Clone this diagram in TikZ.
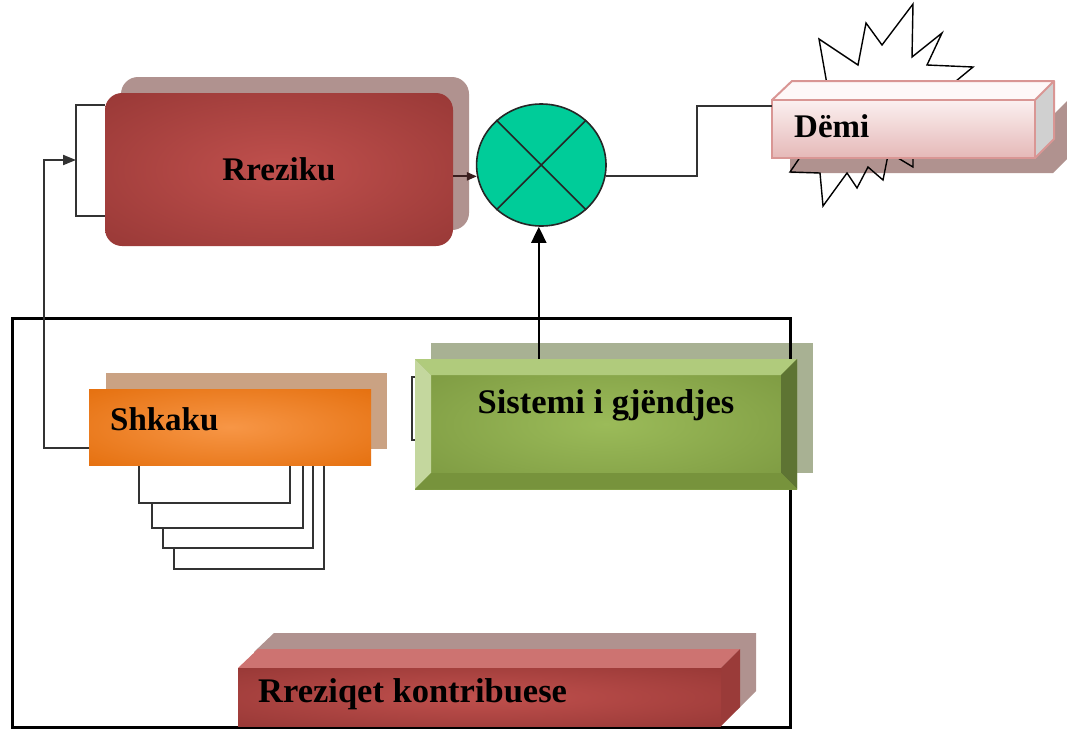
\documentclass[tikz,border=0pt]{standalone}
\usepackage{fontspec}
\setmainfont{Liberation Serif}
\usetikzlibrary{shapes.geometric,arrows.meta,calc}
\definecolor{rrIn}{HTML}{C0504D}
\definecolor{rrOut}{HTML}{943634}
\definecolor{shRed}{HTML}{B0928F}
\definecolor{mint}{HTML}{00CC99}
\definecolor{pinkB}{HTML}{D99694}
\definecolor{pinkTop}{HTML}{FBF0F0}
\definecolor{pinkBot}{HTML}{E5B8B7}
\definecolor{pinkLid}{HTML}{FEF8F8}
\definecolor{greyF}{HTML}{D0D0D0}
\definecolor{shGreen}{HTML}{A8B193}
\definecolor{gIn}{HTML}{9BBB59}
\definecolor{gOut}{HTML}{76923C}
\definecolor{gTop}{HTML}{B0CB7C}
\definecolor{gLeft}{HTML}{C4D79E}
\definecolor{gRight}{HTML}{5E7433}
\definecolor{gBot}{HTML}{77933C}
\definecolor{shOr}{HTML}{CAA283}
\definecolor{oIn}{HTML}{F79646}
\definecolor{oOut}{HTML}{E36C09}
\definecolor{rqTop}{HTML}{CD7371}
\definecolor{rqSide}{HTML}{9A3B39}
\definecolor{connC}{HTML}{333333}
\definecolor{connD}{HTML}{3A1F1F}
\pgfdeclareradialshading{redrad}{\pgfpoint{0bp}{0bp}}{color(0bp)=(rrIn); color(40bp)=(rrOut); color(100bp)=(rrOut)}
\pgfdeclareradialshading{orrad}{\pgfpoint{0bp}{0bp}}{color(0bp)=(oIn); color(40bp)=(oOut); color(100bp)=(oOut)}
\pgfdeclareradialshading{grrad}{\pgfpoint{0bp}{0bp}}{color(0bp)=(gIn); color(40bp)=(gOut); color(100bp)=(gOut)}
\begin{document}
\begin{tikzpicture}[x=1pt,y=-1pt,
  lbl/.style={font=\fontsize{33}{40}\selectfont\bfseries, inner sep=0pt},
  lblbig/.style={font=\fontsize{34.5}{41}\selectfont\bfseries, inner sep=0pt},
  conline/.style={draw=connC, line width=2pt},
  arrline/.style={conline, -{Triangle[length=13pt,width=10pt]}},
  boxnode/.style={inner sep=0pt, outer sep=0pt},
  stackrect/.style={draw=connC, fill=white, line width=2pt}
]
\useasboundingbox (0,0) rectangle (1067,729);
\fill[white] (0,0) rectangle (1067,729);

% ---------- shadows ----------
\fill[shRed, rounded corners=17pt] (121,77) rectangle (469,230);
\fill[shGreen] (431,343) rectangle (813,473);
\fill[shOr] (106,373) rectangle (387,449);
\fill[shRed] (254,652) -- (274,633) -- (756,633) -- (756,691) -- (737,710) -- (254,710) -- cycle;
\fill[shRed] (790,115) -- (1053,115) -- (1072,96) -- (1072,154) -- (1053,173) -- (790,173) -- cycle;

% ---------- frame ----------
\draw[black, line width=3pt] (12,318) rectangle (790,727);

% ---------- explosion star (behind Demi) ----------
\draw[black, line width=1.4pt, line join=miter]
  (828,90) -- (819,39) -- (858,65) -- (866,23) -- (882,45) -- (913,4) -- (912,57)
  -- (942,33) -- (927,65) -- (973,67) -- (950,86) -- (913,150) -- (913,167)
  -- (898,158) -- (888,155) -- (883,180) -- (868,167) -- (857,188) -- (847,173)
  -- (823,206) -- (820,173) -- (790,172) -- (805,150) -- cycle;

% ---------- stacked rectangles behind Shkaku ----------
\draw[stackrect] (174,455) rectangle (324,569);
\draw[stackrect] (163,455) rectangle (313,548);
\draw[stackrect] (152,455) rectangle (303,528);
\draw[stackrect] (139,455) rectangle (290,503);

% ---------- Rreziku ----------
\node[boxnode, lbl, shading=redrad, rounded corners=17pt,
      minimum width=348pt, minimum height=153pt] (rrez) at (279,169.5) {Rreziku};

% ---------- multiplier circle ----------
\node[ellipse, draw=black!85, line width=1.6pt, fill=mint, inner sep=0pt,
      minimum width=129.4pt, minimum height=122pt] (c) at (541.3,165) {};
\draw[black!85, line width=1.6pt] (c.45) -- (c.225) (c.135) -- (c.315);

% ---------- Demi ----------
\fill[pinkLid] (772,100) -- (792,81) -- (1054,81) -- (1035,100) -- cycle;
\fill[greyF] (1035,100) -- (1054,81) -- (1054,139) -- (1035,158) -- cycle;
\draw[pinkB, line width=2pt, line join=round]
  (772,100) -- (792,81) -- (1054,81) -- (1035,100)
  (1054,81) -- (1054,139) -- (1035,158);
\node[boxnode, draw=pinkB, line width=2pt, top color=pinkTop, bottom color=pinkBot,
      minimum width=263pt, minimum height=58pt] (demi) at (903.5,129) {};
\node[lbl, anchor=base west] (demit) at ($(demi.west)+(22,8)$) {Dëmi};

% ---------- Shkaku ----------
\node[boxnode, shading=orrad, minimum width=282pt, minimum height=76pt] (shk) at (230,427) {};
\node[lbl, anchor=base west] (shkt) at ($(shk.west)+(21,3)$) {Shkaku};

% ---------- Sistemi i gjendjes ----------
\coordinate (st) at (412,377);
\coordinate (sb) at (412,440);
\node[boxnode, shading=grrad, minimum width=382pt, minimum height=130pt] (sis) at (606,424) {};
\fill[gTop] (sis.north west) -- (sis.north east) -- ($(sis.north east)+(-16,16)$) -- ($(sis.north west)+(16,16)$) -- cycle;
\fill[gLeft] (sis.north west) -- ($(sis.north west)+(16,16)$) -- ($(sis.south west)+(16,-16)$) -- (sis.south west) -- cycle;
\fill[gRight] (sis.north east) -- ($(sis.north east)+(-16,16)$) -- ($(sis.south east)+(-16,-16)$) -- (sis.south east) -- cycle;
\fill[gBot] (sis.south west) -- ($(sis.south west)+(16,-16)$) -- ($(sis.south east)+(-16,-16)$) -- (sis.south east) -- cycle;
\node[lblbig, anchor=base] (sist) at ($(sis.north)+(0,54)$) {Sistemi i gjëndjes};

% ---------- Rreziqet kontribuese ----------
\fill[rqTop] (238,668) -- (258,649) -- (740,649) -- (721,668) -- cycle;
\fill[rqSide] (721,668) -- (740,649) -- (740,707) -- (721,726) -- cycle;
\node[boxnode, shading=redrad, minimum width=483pt, minimum height=58pt] (rrq) at (479.5,697) {};
\node[lblbig, anchor=base west] (rrqt) at ($(rrq.west)+(20,5)$) {Rreziqet kontribuese};

% ---------- connectors ----------
\coordinate (b1) at (44,160);
\coordinate (brk) at (76,160);
\coordinate (bt) at (76,105);
\coordinate (bb) at (76,216);
\coordinate (j1) at (697,106);
\coordinate (cb) at ([xshift=-2.5pt]c.south);

\draw[arrline] ([yshift=-21pt]shk.west) -| (b1) -- (brk);
\draw[conline] (rrez.west |- bt) -- (bt) -- (bb) -- (rrez.west |- bb);
\draw[conline, draw=connD, -{Triangle[length=10pt,width=8pt]}] (rrez.east |- c.190) -- (c.190);
\draw[conline] (c.350) -| (j1) -- (j1 -| demi.west);
\draw[conline, draw=black, -{Triangle[length=16pt,width=15pt]}] (sis.north -| cb) -- (cb);
\draw[conline] (sis.west |- st) -- (st) -- (sb) -- (sis.west |- sb);
\end{tikzpicture}
\end{document}
